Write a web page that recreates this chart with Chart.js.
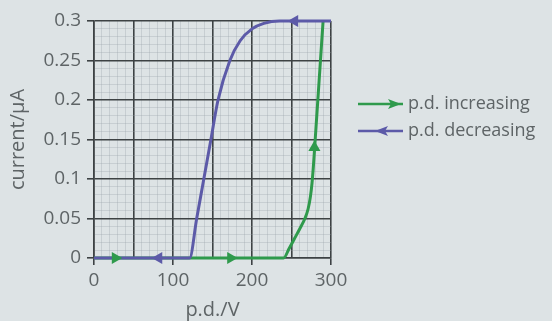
<!DOCTYPE html>
<html><head><meta charset="utf-8">
<script src="https://cdn.jsdelivr.net/npm/chart.js@4"></script>
<style>html,body{margin:0;padding:0;background:#dde3e5;}#wrap{width:552px;height:321px;position:relative;}</style>
</head><body><div id="wrap"><canvas id="c"></canvas></div>
<script>
// ---- data ----
const incX = [0, 240, 247, 254, 261, 267, 271, 274, 276, 278, 280, 282, 284, 286, 288, 290];
const incY = [0, 0, 0.012, 0.025, 0.038, 0.05, 0.062, 0.078, 0.095, 0.12, 0.15, 0.18, 0.21, 0.24, 0.27, 0.3];
const decX = [300, 235, 215, 200, 185, 172, 157, 148, 139, 130, 121, 0];
const decY = [0.3, 0.3, 0.297, 0.29, 0.275, 0.25, 0.2, 0.15, 0.1, 0.05, 0, 0];
const incArrowX = [27, 173, 279];
const incArrowY = [0, 0, 0.14];
const incArrowRot = [90, 90, 0];
const decArrowX = [82, 254];
const decArrowY = [0, 0.3];
const decArrowRot = [-90, -90];
const seriesNames = ['p.d. increasing', 'p.d. decreasing'];
const xTickLabels = ['0', '100', '200', '300'];
const yTickLabels = ['0', '0.05', '0.1', '0.15', '0.2', '0.25', '0.3'];
const xTitle = 'p.d./V';
const yTitle = 'current/\u03bcA';

const GREEN = '#2f9a4c';
const BLUE = '#5c5aa8';
const TEXT = '#5e6466';
const MAJOR = '#3d4244';
const MINOR = 'rgba(150,160,164,0.3)';
const FONT = "'Open Sans', sans-serif";

const pts = (xs, ys) => xs.map((x, i) => ({x: x, y: ys[i]}));

const legendPlugin = {
  id: 'customLegend',
  afterDraw(chart) {
    const ctx = chart.ctx;
    const items = [
      {name: seriesNames[0], color: GREEN, y: 104, dir: 1, ax: 394},
      {name: seriesNames[1], color: BLUE, y: 131, dir: -1, ax: 382}
    ];
    ctx.save();
    items.forEach(it => {
      ctx.strokeStyle = it.color;
      ctx.lineWidth = 2.5;
      ctx.beginPath();
      ctx.moveTo(358, it.y);
      ctx.lineTo(403, it.y);
      ctx.stroke();
      ctx.fillStyle = it.color;
      ctx.beginPath();
      const tip = it.ax + it.dir * 7;
      ctx.moveTo(tip, it.y);
      ctx.lineTo(it.ax - it.dir * 6, it.y - 5);
      ctx.lineTo(it.ax - it.dir * 3, it.y);
      ctx.lineTo(it.ax - it.dir * 6, it.y + 5);
      ctx.closePath();
      ctx.fill();
      ctx.fillStyle = TEXT;
      ctx.font = "18px " + FONT;
      ctx.textBaseline = 'middle';
      ctx.textAlign = 'left';
      ctx.fillText(it.name, 408, it.y);
    });
    ctx.restore();
  }
};

Chart.defaults.font.family = FONT;
Chart.defaults.color = TEXT;

new Chart(document.getElementById('c'), {
  type: 'scatter',
  data: {
    datasets: [
      {data: pts(incArrowX, incArrowY), pointStyle: 'triangle', rotation: incArrowRot, clip: false,
       pointRadius: 7, backgroundColor: GREEN, borderColor: GREEN, borderWidth: 0, showLine: false},
      {data: pts(decArrowX, decArrowY), pointStyle: 'triangle', rotation: decArrowRot, clip: false,
       pointRadius: 7, backgroundColor: BLUE, borderColor: BLUE, borderWidth: 0, showLine: false},
      {data: pts(decX, decY), showLine: true, borderColor: BLUE, borderWidth: 3, clip: false,
       pointRadius: 0, cubicInterpolationMode: 'monotone', fill: false},
      {data: pts(incX, incY), showLine: true, borderColor: GREEN, borderWidth: 3, clip: false,
       pointRadius: 0, cubicInterpolationMode: 'monotone', fill: false}
    ]
  },
  options: {
    responsive: true,
    maintainAspectRatio: false,
    animation: false,
    layout: {padding: {left: 0, top: 21, right: 221, bottom: 0}},
    plugins: {legend: {display: false}, tooltip: {enabled: false}},
    scales: {
      x: {
        type: 'linear', min: 0, max: 300,
        afterFit(s) { s.height = 63; },
        ticks: {
          stepSize: 10, autoSkip: false, maxRotation: 0, padding: 4,
          font: {size: 19}, color: TEXT,
          callback: (v, i) => (i % 10 === 0 ? xTickLabels[i / 10] : '')
        },
        grid: {
          color: c => (c.index % 5 === 0 ? MAJOR : MINOR),
          lineWidth: c => (c.index % 5 === 0 ? 1.6 : 1),
          tickColor: c => (c.index % 10 === 0 ? MAJOR : 'rgba(0,0,0,0)'),
          tickLength: 7
        },
        border: {color: MAJOR, width: 1.6},
        title: {display: true, text: xTitle, font: {size: 20}, color: TEXT, padding: {top: 0, bottom: -1}}
      },
      y: {
        type: 'linear', min: 0, max: 0.3,
        afterFit(s) { s.width = 94; },
        ticks: {
          stepSize: 0.01, autoSkip: false, padding: 6,
          font: {size: 19}, color: TEXT,
          callback: (v, i) => (i % 5 === 0 ? yTickLabels[i / 5] : '')
        },
        grid: {
          color: c => (c.index % 5 === 0 ? MAJOR : MINOR),
          lineWidth: c => (c.index % 5 === 0 ? 1.6 : 1),
          tickColor: c => (c.index % 5 === 0 ? MAJOR : 'rgba(0,0,0,0)'),
          tickLength: 7
        },
        border: {color: MAJOR, width: 1.6},
        title: {display: true, text: yTitle, font: {size: 20}, color: TEXT, padding: {top: 6, bottom: 0}}
      }
    }
  },
  plugins: [legendPlugin]
});
</script>
</body></html>
